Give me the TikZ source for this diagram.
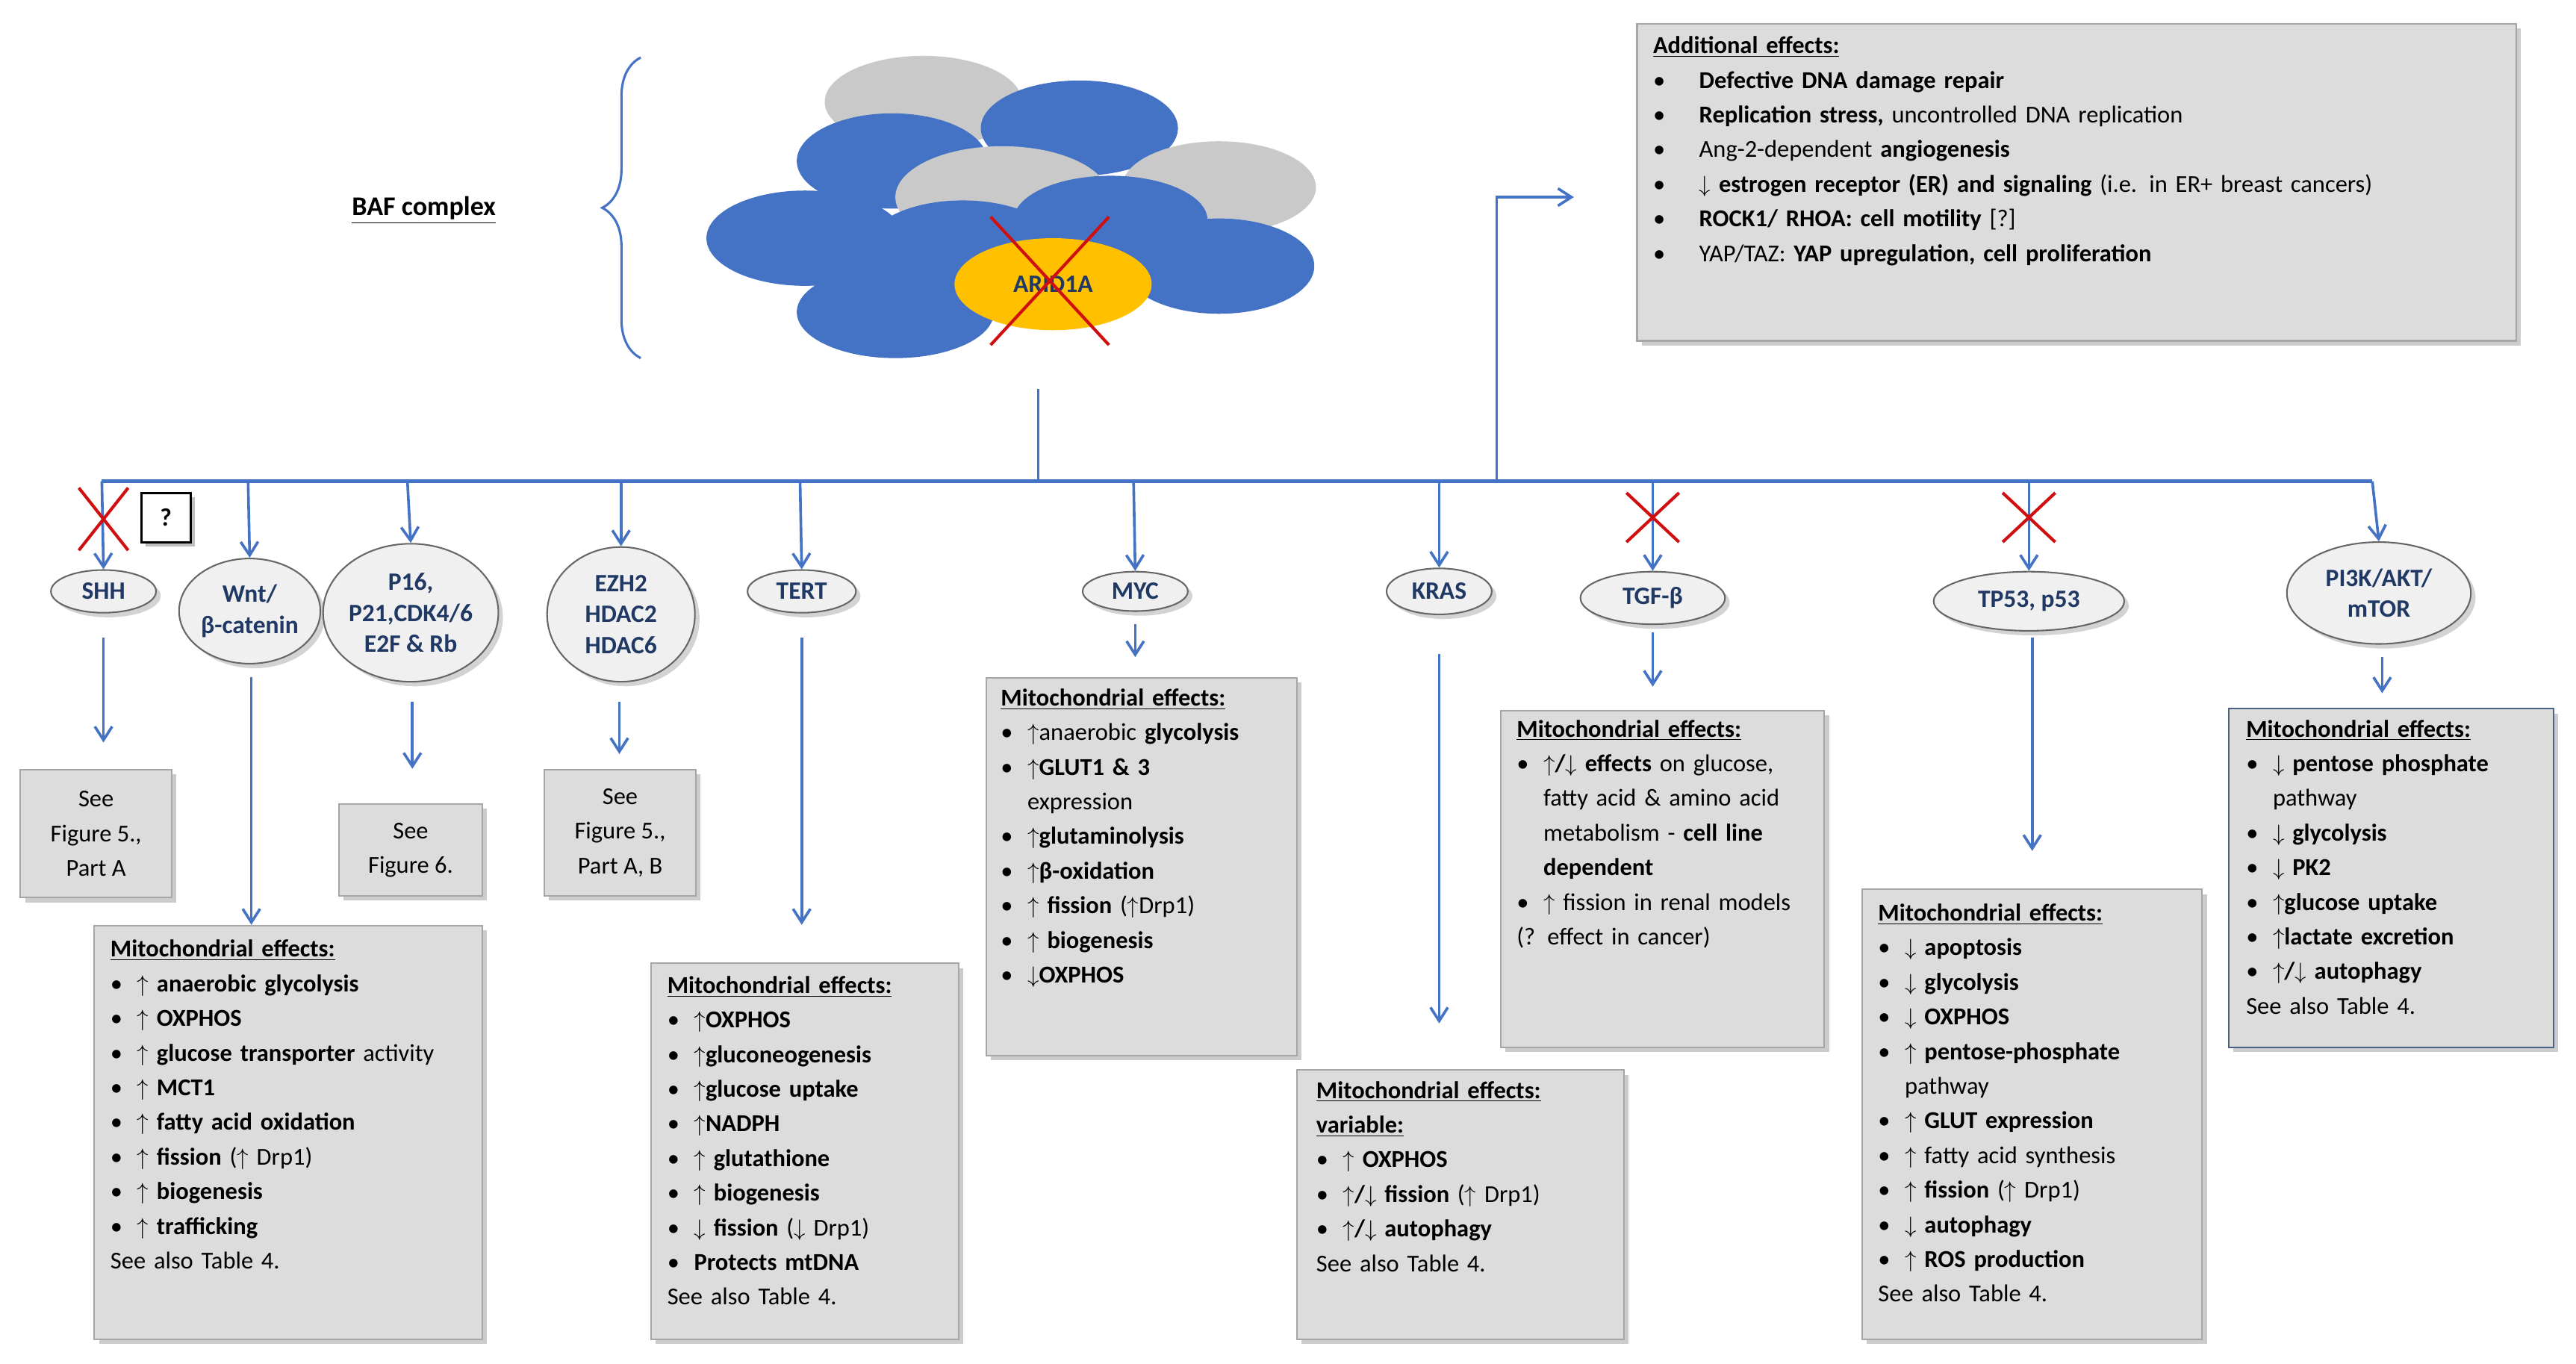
\documentclass[tikz,border=0pt]{standalone}
\usepackage{fontspec}
\setmainfont{Carlito}
\usetikzlibrary{shapes.geometric,shadows,arrows.meta,decorations.pathreplacing,calc}
\definecolor{lblue}{HTML}{4472C4}
\definecolor{cgray}{HTML}{C9C9C9}
\definecolor{cyel}{HTML}{FFC000}
\definecolor{navy}{HTML}{1F3864}
\definecolor{boxg}{HTML}{DCDCDC}
\definecolor{xred}{HTML}{D01010}
\def\pxu{0.03cm}
\newcommand\itm{\par\hangindent=1.1em\hangafter=1\noindent\makebox[1.1em][l]{\textbullet}}
\newcommand\upa{$\uparrow$}
\newcommand\dna{$\downarrow$}
\newcommand\hdr[1]{\noindent\textbf{\underline{#1}}}
\newcommand\bfnt{\fontsize{12.6}{18}\selectfont\raggedright\hyphenpenalty=10000\exhyphenpenalty=10000\spaceskip=0.22em plus 0.1em minus 0.05em}
\tikzset{
 arr/.style={lblue,line width=1.4pt,-{Straight Barb[length=7pt,width=9pt]}},
 conn/.style={lblue,line width=1.4pt},
 gene/.style={ellipse,draw=gray!80!black,fill=gray!12,line width=0.8pt,text=navy,font=\fontsize{13}{16}\selectfont\bfseries,align=center,inner sep=0pt,drop shadow={opacity=0.35}},
 bx/.style={rectangle,draw=gray!70,fill=boxg,line width=0.8pt,anchor=north west,drop shadow={opacity=0.4}},
 bt/.style={anchor=north west,font=\bfnt,align=left,inner sep=0pt},
 cx/.style={xred,line width=1.6pt},
 blob/.style={ellipse,inner sep=0pt},
}
\begin{document}
\begin{tikzpicture}[x=0.03cm,y=-0.03cm]
\useasboundingbox (0,0) rectangle (1568,830);
% BAF complex
\node[font=\fontsize{14}{18}\selectfont\bfseries] (baf) at (258,128) {\underline{BAF complex}};
\draw[lblue,line width=1.2pt,decorate,decoration={brace,amplitude=20pt}] (390,218) -- (390,35);
\node[blob,fill=cgray,minimum width=120*\pxu,minimum height=56*\pxu] (g1) at (562,62) {};
\node[blob,fill=lblue,minimum width=116*\pxu,minimum height=58*\pxu] (b1) at (543,98) {};
\node[blob,fill=lblue,minimum width=120*\pxu,minimum height=58*\pxu] (b2) at (657,78) {};
\node[blob,fill=cgray,minimum width=118*\pxu,minimum height=56*\pxu] (g2) at (742,114) {};
\node[blob,fill=cgray,minimum width=130*\pxu,minimum height=62*\pxu] (g3) at (610,120) {};
\node[blob,fill=lblue,minimum width=120*\pxu,minimum height=58*\pxu] (b3) at (490,145) {};
\node[blob,fill=lblue,minimum width=116*\pxu,minimum height=56*\pxu] (b4) at (586,150) {};
\node[blob,fill=lblue,minimum width=118*\pxu,minimum height=54*\pxu] (b5) at (676,134) {};
\node[blob,fill=lblue,minimum width=116*\pxu,minimum height=58*\pxu] (b6) at (742,162) {};
\node[blob,fill=lblue,minimum width=120*\pxu,minimum height=56*\pxu] (b7) at (545,190) {};
\node[blob,fill=cyel,minimum width=120*\pxu,minimum height=56*\pxu,font=\fontsize{13}{16}\selectfont\bfseries,text=navy] (arid) at (641,173) {ARID1A};
\draw[cx] (603,132) -- (675,210) (675,132) -- (603,210);
% trunk
\coordinate (t0) at (632,237);
\coordinate (t1) at (632,293);
\coordinate (hl) at (62,293);
\coordinate (hr) at (1444,293);
\coordinate (u0) at (911,293);
\coordinate (u1) at (911,120);
\coordinate (u2) at (958,120);
\draw[conn] (t0) -- (t1);
\draw[conn,line width=2pt] (hl) -- (hr);
\draw[arr] (u0) -- (u1) -- (u2);
% additional effects
\node[bx,minimum width=535*\pxu,minimum height=193*\pxu] (add) at (996,14) {};
\node[bt,text width=470*\pxu] (addt) at (1006,22) {\hdr{Additional effects:}
\par\hangindent=1.9em\hangafter=1\noindent\makebox[1.9em][l]{\textbullet}\textbf{Defective DNA damage repair}
\par\hangindent=1.9em\hangafter=1\noindent\makebox[1.9em][l]{\textbullet}\textbf{Replication stress,} uncontrolled DNA replication
\par\hangindent=1.9em\hangafter=1\noindent\makebox[1.9em][l]{\textbullet}Ang-2-dependent \textbf{angiogenesis}
\par\hangindent=1.9em\hangafter=1\noindent\makebox[1.9em][l]{\textbullet}\textbf{\dna\ estrogen receptor (ER) and signaling} (i.e. in ER+ breast cancers)
\par\hangindent=1.9em\hangafter=1\noindent\makebox[1.9em][l]{\textbullet}\textbf{ROCK1/ RHOA: cell motility} [?]
\par\hangindent=1.9em\hangafter=1\noindent\makebox[1.9em][l]{\textbullet}YAP/TAZ: \textbf{YAP upregulation, cell proliferation}};
% genes
\node[gene,minimum width=64*\pxu,minimum height=26*\pxu] (shh) at (63,360) {SHH};
\node[gene,minimum width=86*\pxu,minimum height=64*\pxu] (wnt) at (152,372) {Wnt/\\β-catenin};
\node[gene,minimum width=100*\pxu,minimum height=84*\pxu] (p16) at (250,373) {P16,\\P21,CDK4/6\\E2F \& Rb};
\node[gene,minimum width=90*\pxu,minimum height=82*\pxu] (ezh) at (378,374) {EZH2\\HDAC2\\HDAC6};
\node[gene,minimum width=66*\pxu,minimum height=26*\pxu] (tert) at (488,360) {TERT};
\node[gene,minimum width=64*\pxu,minimum height=24*\pxu] (myc) at (691,360) {MYC};
\node[gene,minimum width=64*\pxu,minimum height=28*\pxu] (kras) at (876,360) {KRAS};
\node[gene,minimum width=88*\pxu,minimum height=32*\pxu] (tgf) at (1006,364) {TGF-β};
\node[gene,minimum width=116*\pxu,minimum height=36*\pxu] (tp) at (1235,366) {TP53, p53};
\node[gene,minimum width=112*\pxu,minimum height=62*\pxu] (pi3) at (1448,361) {PI3K/AKT/\\mTOR};
\node[draw=black,fill=white,line width=1.2pt,minimum size=30*\pxu,font=\fontsize{13}{16}\selectfont\bfseries,drop shadow={opacity=0.5}] (q) at (101,315) {?};
% branch arrows
\foreach \x/\n in {62/shh,151/wnt,248/p16,378/ezh,487/tert,690/myc,876/kras,1006/tgf,1235/tp,1444/pi3}{
 \coordinate (s\n) at (\x,293);
 \draw[arr] (s\n) -- (\n.north);
}
\draw[cx] (48,297) -- (78,335) (78,297) -- (48,335);
\draw[cx] (990,300) -- (1022,330) (1022,300) -- (990,330);
\draw[cx] (1219,300) -- (1251,330) (1251,300) -- (1219,330);
% boxes
\node[bx,minimum width=92*\pxu,minimum height=78*\pxu] (fs) at (12,468) {};
\node[font=\fontsize{12.6}{18}\selectfont,align=center] at (fs.center) {See\\Figure 5.,\\Part A};
\node[bx,minimum width=87*\pxu,minimum height=56*\pxu] (f6) at (206,489) {};
\node[font=\fontsize{12.6}{18}\selectfont,align=center] at (f6.center) {See\\Figure 6.};
\node[bx,minimum width=92*\pxu,minimum height=77*\pxu] (fe) at (331,468) {};
\node[font=\fontsize{12.6}{18}\selectfont,align=center] at (fe.center) {See\\Figure 5.,\\Part A, B};
\node[bx,minimum width=236*\pxu,minimum height=252*\pxu] (mw) at (57,563) {};
\node[bt,text width=200*\pxu] at (67,572) {\hdr{Mitochondrial effects:}
\itm\textbf{\upa\ anaerobic glycolysis}
\itm\textbf{\upa\ OXPHOS}
\itm\textbf{\upa\ glucose transporter} activity
\itm\textbf{\upa\ MCT1}
\itm\textbf{\upa\ fatty acid oxidation}
\itm\textbf{\upa\ fission} (\upa\ Drp1)
\itm\textbf{\upa\ biogenesis}
\itm\textbf{\upa\ trafficking}
\par\noindent See also Table 4.};
\node[bx,minimum width=187*\pxu,minimum height=229*\pxu] (mt) at (396,586) {};
\node[bt,text width=175*\pxu] at (406,594) {\hdr{Mitochondrial effects:}
\itm\textbf{\upa OXPHOS}
\itm\textbf{\upa gluconeogenesis}
\itm\textbf{\upa glucose uptake}
\itm\textbf{\upa NADPH}
\itm\textbf{\upa\ glutathione}
\itm\textbf{\upa\ biogenesis}
\itm\textbf{\dna\ fission} (\dna\ Drp1)
\itm\textbf{Protects mtDNA}
\par\noindent See also Table 4.};
\node[bx,minimum width=189*\pxu,minimum height=230*\pxu] (mm) at (600,412) {};
\node[bt,text width=150*\pxu] at (609,419) {\hdr{Mitochondrial effects:}
\itm\upa anaerobic \textbf{glycolysis}
\itm\textbf{\upa GLUT1 \& 3} expression
\itm\textbf{\upa glutaminolysis}
\itm\textbf{\upa β-oxidation}
\itm\textbf{\upa\ fission} (\upa Drp1)
\itm\textbf{\upa\ biogenesis}
\itm\textbf{\dna OXPHOS}};
\node[bx,minimum width=199*\pxu,minimum height=164*\pxu] (mk) at (789,651) {};
\node[bt,text width=150*\pxu] at (801,658) {\hdr{Mitochondrial effects:}\par\hdr{variable:}
\itm\textbf{\upa\ OXPHOS}
\itm\textbf{\upa/\dna\ fission} (\upa\ Drp1)
\itm\textbf{\upa/\dna\ autophagy}
\par\noindent See also Table 4.};
\node[bx,minimum width=197*\pxu,minimum height=205*\pxu] (mg) at (913,432) {};
\node[bt,text width=182*\pxu] at (923,438) {\hdr{Mitochondrial effects:}
\itm\textbf{\upa/\dna\ effects} on glucose, fatty acid \& amino acid metabolism - \textbf{cell line dependent}
\itm\upa\ fission in renal models (? effect in cancer)};
\node[bx,minimum width=207*\pxu,minimum height=274*\pxu] (mp) at (1133,541) {};
\node[bt,text width=195*\pxu] at (1143,550) {\hdr{Mitochondrial effects:}
\itm\textbf{\dna\ apoptosis}
\itm\textbf{\dna\ glycolysis}
\itm\textbf{\dna\ OXPHOS}
\itm\textbf{\upa\ pentose-phosphate} pathway
\itm\textbf{\upa\ GLUT expression}
\itm\upa\ fatty acid synthesis
\itm\textbf{\upa\ fission} (\upa\ Drp1)
\itm\textbf{\dna\ autophagy}
\itm\textbf{\upa\ ROS production}
\par\noindent See also Table 4.};
\node[bx,draw=navy!80,minimum width=198*\pxu,minimum height=206*\pxu] (mi) at (1356,431) {};
\node[bt,text width=160*\pxu] at (1367,438) {\hdr{Mitochondrial effects:}
\itm\textbf{\dna\ pentose phosphate} pathway
\itm\textbf{\dna\ glycolysis}
\itm\textbf{\dna\ PK2}
\itm\textbf{\upa glucose uptake}
\itm\textbf{\upa lactate excretion}
\itm\textbf{\upa/\dna\ autophagy}
\par\noindent See also Table 4.};
% second arrows
\coordinate (a1) at (63,388); \draw[arr] (a1) -- (63,452) coordinate (a1e);
\coordinate (a2) at (153,412); \draw[arr] (a2) -- (mw.north -| a2);
\coordinate (a3) at (251,427); \draw[arr] (a3) -- (251,468);
\coordinate (a4) at (377,427); \draw[arr] (a4) -- (377,459);
\coordinate (a5) at (488,388); \draw[arr] (a5) -- (488,563);
\coordinate (a6) at (691,380); \draw[arr] (a6) -- (691,400);
\coordinate (a7) at (876,398); \draw[arr] (a7) -- (876,623);
\coordinate (a8) at (1006,385); \draw[arr] (a8) -- (1006,418);
\coordinate (a9) at (1237,388); \draw[arr] (a9) -- (1237,518);
\coordinate (a10) at (1450,400); \draw[arr] (a10) -- (1450,422);
\end{tikzpicture}
\end{document}
